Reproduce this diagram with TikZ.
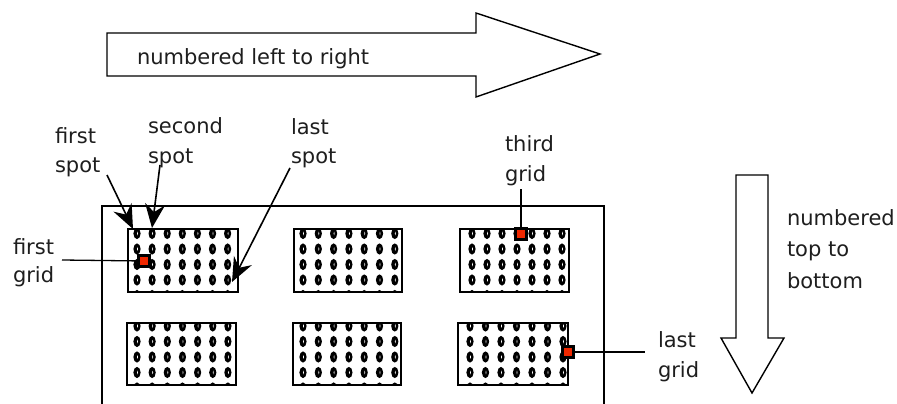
\documentclass[tikz,border=0pt]{standalone}
\usepackage{fontspec}
\setmainfont{DejaVu Sans}
\usetikzlibrary{arrows.meta}
\definecolor{spotred}{RGB}{240,40,0}
\definecolor{ink}{RGB}{30,30,30}
\tikzset{
  lbl/.style={anchor=base west, inner sep=0pt, outer sep=0pt, align=left, text=ink,
              font=\fontsize{21}{30}\selectfont},
  bigarrow/.style={draw=black, line width=1.4pt, fill=white, line join=miter},
  frame/.style={draw=black, line width=1.5pt},
  gridbox/.style={draw=black, line width=1.5pt, inner sep=0pt, outer sep=0pt,
                  minimum width=110pt, minimum height=63pt, anchor=north west},
  spot/.style={fill=black},
  slit/.style={fill=white},
  redsq/.style={draw=black, line width=2.2pt, fill=spotred, minimum size=11pt,
                inner sep=0pt, outer sep=0pt},
  lead/.style={draw=black, line width=1.3pt},
  pointer/.style={draw=black, line width=1.6pt,
                  -{Stealth[length=24pt, width=20pt, inset=8pt]}}
}
% \gridspots{node}{first col x}{col step}{first row y}{row step}{first col index}
\newcommand{\gridspots}[6]{%
  \begin{scope}
    \clip (#1.south west) rectangle (#1.north east);
    \foreach \i in {#6,...,6} {
      \foreach \j in {0,...,4} {
        \fill[spot] (#2+\i*#3, #4+\j*#5) ellipse [x radius=3.6, y radius=5.6];
        \fill[slit] (#2+\i*#3+0.5, #4+\j*#5) ellipse [x radius=0.45, y radius=1.9];
      }
    }
  \end{scope}}
\begin{document}
\begin{tikzpicture}[x=1pt, y=-1pt]
\useasboundingbox (0,0) rectangle (897,404);

% big horizontal arrow
\draw[bigarrow] (107,33) -- (476,33) -- (476,13) -- (600,54) -- (476,97) -- (476,76) -- (107,76) -- cycle;
\node[lbl] (nlr) at (137,65) {numbered left to right};

% big vertical arrow
\draw[bigarrow] (736,175) -- (768,175) -- (768,338) -- (784,338) -- (752,393) -- (721,338) -- (736,338) -- cycle;
\node[lbl, font=\fontsize{21}{31.5}\selectfont] (ntb) at (787,288) {numbered\\top to\\bottom};

% slide frame
\draw[frame] (102,404) -- (102,206) -- (604,206) -- (604,404);

% grids
\node[gridbox] (gA) at (128,229) {};
\node[gridbox, minimum width=108pt] (gB) at (294,229) {};
\node[gridbox, minimum width=109pt] (gC) at (460,229) {};
\node[gridbox, minimum width=109pt, minimum height=62pt] (gD) at (127,323) {};
\node[gridbox, minimum width=108pt, minimum height=62pt] (gE) at (293,323) {};
\node[gridbox, minimum width=110pt, minimum height=62pt] (gF) at (458,323) {};

\gridspots{gA}{137}{15.1}{233.5}{15.5}{0}
\gridspots{gB}{303}{15.3}{233.5}{15.5}{0}
\gridspots{gC}{472}{15}{233.5}{15.5}{0}
\gridspots{gD}{137}{15.15}{326}{15.5}{0}
\gridspots{gE}{303}{15.3}{326}{15.5}{0}
\gridspots{gF}{470}{15.5}{326}{15.5}{-1}

% red marked spots
\node[redsq] (rA) at (144,261) {};
\node[redsq] (rC) at (521,234) {};
\node[redsq] (rF) at (568,352) {};

% labels (anchored at the baseline of the last line)
\node[lbl, font=\fontsize{21}{29}\selectfont] (fs) at (55,172) {first\\spot};
\node[lbl] (ss) at (148,163) {second\\spot};
\node[lbl, font=\fontsize{21}{29}\selectfont] (ls) at (291,163) {last\\spot};
\node[lbl, font=\fontsize{21}{28}\selectfont] (fg) at (13,282) {first\\grid};
\node[lbl] (tg) at (505,181) {third\\grid};
\node[lbl] (lg) at (658,377) {last\\grid};

% connector end points
\coordinate (fsS) at (107,175);
\coordinate (fsT) at (133,229);
\coordinate (ssS) at (160,165);
\coordinate (ssT) at (152,228);
\coordinate (lsS) at (290,168);
\coordinate (lsT) at (232,282);
\coordinate (fgS) at (62,260);
\coordinate (tgS) at (521,189);
\coordinate (lgS) at (645,352);

% pointers
\draw[pointer] (fsS) -- (fsT);
\draw[pointer] (ssS) -- (ssT);
\draw[pointer] (lsS) -- (lsT);

% leader lines
\draw[lead] (fgS) -- (rA);
\draw[lead] (tgS) -- (rC);
\draw[lead] (rF) -- (lgS);
\end{tikzpicture}
\end{document}
